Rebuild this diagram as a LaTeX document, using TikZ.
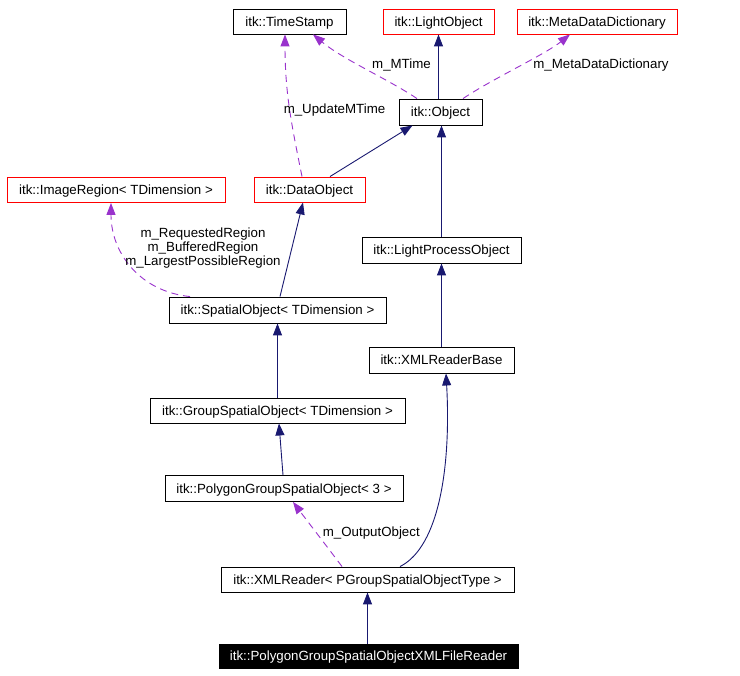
\documentclass[tikz,border=0pt]{standalone}
\usepackage{fontspec}
\setmainfont{Liberation Sans}
\usetikzlibrary{arrows.meta}
\definecolor{navyc}{RGB}{25,25,112}
\definecolor{purpc}{RGB}{153,50,204}
\definecolor{redc}{RGB}{255,0,0}
\begin{document}
\begin{tikzpicture}[x=1pt,y=-1pt,
  every node/.style={font=\fontsize{13.3}{15}\selectfont},
  cls/.style={draw=black,line width=0.9pt,minimum height=25pt,inner sep=0pt,fill=white,text height=9.6pt,text depth=0pt},
  redcls/.style={cls,draw=redc},
  fincls/.style={cls,fill=black,text=white},
  inh/.style={draw=navyc,line width=0.9pt,-{Triangle[length=12pt,width=9pt]}},
  use/.style={draw=purpc,line width=0.9pt,dash pattern=on 7pt off 5pt,-{Triangle[length=12pt,width=9pt]}},
  lbl/.style={inner sep=0pt,align=center}]
\useasboundingbox (0,0) rectangle (740,676);
\node[cls,minimum width=113pt] (ts) at (289.5,21.5) {itk::TimeStamp};
\node[redcls,minimum width=111pt] (lo) at (438.5,21.5) {itk::LightObject};
\node[redcls,minimum width=160pt] (md) at (597,21.5) {itk::MetaDataDictionary};
\node[cls,minimum width=83pt,minimum height=26pt] (obj) at (440.5,112) {itk::Object};
\node[redcls,minimum width=218pt] (ir) at (116,190) {itk::ImageRegion< TDimension >};
\node[redcls,minimum width=111pt] (do) at (309.5,189.5) {itk::DataObject};
\node[cls,minimum width=159pt,minimum height=26pt] (lpo) at (441.5,250) {itk::LightProcessObject};
\node[cls,minimum width=217pt,minimum height=26pt] (so) at (277.5,310) {itk::SpatialObject< TDimension >};
\node[cls,minimum width=145pt,minimum height=26pt] (xrb) at (441.5,360) {itk::XMLReaderBase};
\node[cls,minimum width=255pt] (gso) at (277.5,410.5) {itk::GroupSpatialObject< TDimension >};
\node[cls,minimum width=238pt,minimum height=26pt] (pgso) at (284,488.5) {itk::PolygonGroupSpatialObject< 3 >};
\node[cls,minimum width=293pt] (xr) at (367.5,579.5) {itk::XMLReader< PGroupSpatialObjectType >};
\node[fincls,minimum width=299pt,minimum height=24pt] (fin) at (368.5,656) {itk::PolygonGroupSpatialObjectXMLFileReader};

% inheritance
\draw[inh] (obj.north -| lo.south) -- (lo.south);
\draw[inh] ([xshift=20.5pt]do.north) -- ([xshift=-28pt]obj.south);
\draw[inh] (lpo.north) -- (obj.south -| lpo.north);
\draw[inh] ([xshift=2.5pt]so.north) -- ([xshift=-6.5pt]do.south);
\draw[inh] (xrb.north) -- (lpo.south);
\draw[inh] (gso.north) -- (so.south);
\draw[inh] ([xshift=-1pt]pgso.north) -- ([xshift=1.5pt]gso.south);
\draw[inh] ([xshift=32.5pt]xr.north) .. controls +(40,-20) and +(5,90) .. ([xshift=4.5pt]xrb.south);
\draw[inh] (fin.north -| xr.south) -- (xr.south);

% usage
\draw[use] ([xshift=-23.5pt]obj.north) .. controls +(-30,-20) and +(30,25) .. ([xshift=23.5pt]ts.south);
\draw[use] ([xshift=22.5pt]obj.north) .. controls +(30,-20) and +(-25,20) .. ([xshift=-27pt]md.south);
\draw[use] ([xshift=-7.5pt]do.north) .. controls +(-10,-50) and +(0,60) .. ([xshift=-4.5pt]ts.south);
\draw[use] ([xshift=-87.5pt]so.north) .. controls +(-50,-5) and +(0,50) .. ([xshift=-5pt]ir.south);
\draw[use] ([xshift=-25.5pt]xr.north) .. controls +(-15,-20) and +(15,20) .. ([xshift=9pt]pgso.south);

% labels
\node[lbl] (l1) at (401.5,65.5) {m\_MTime};
\node[lbl] (l2) at (601,65.5) {m\_MetaDataDictionary};
\node[lbl] (l3) at (334.5,110) {m\_UpdateMTime};
\node[lbl] (l4) at (203,248) {m\_RequestedRegion\\[-1.2pt]m\_BufferedRegion\\[-1.2pt]m\_LargestPossibleRegion};
\node[lbl] (l5) at (371.3,532.7) {m\_OutputObject};
\end{tikzpicture}
\end{document}
